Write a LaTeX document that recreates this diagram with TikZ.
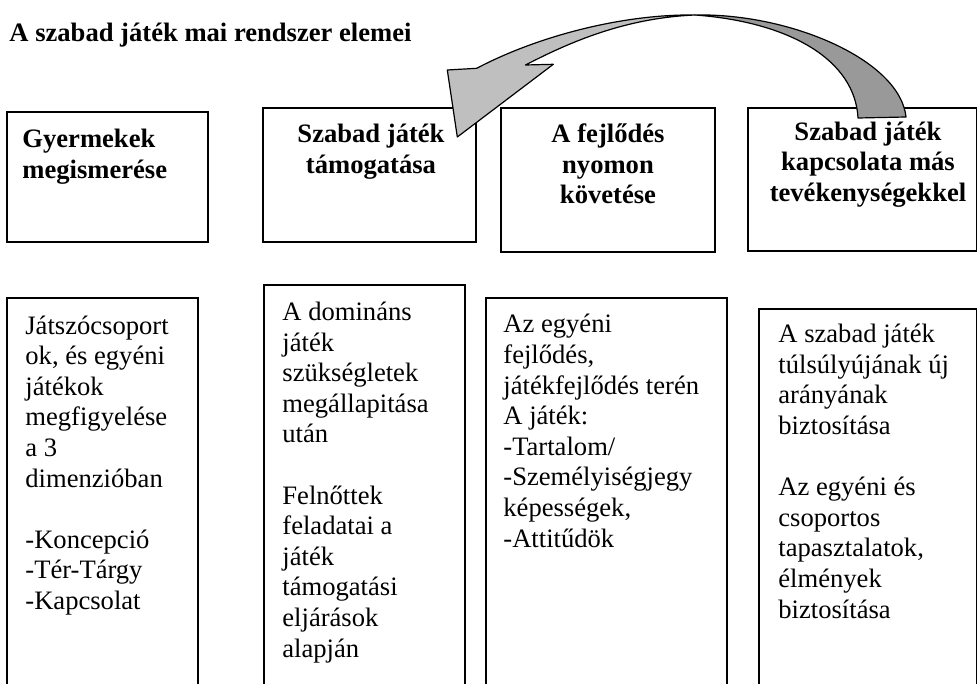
\documentclass[tikz,border=0pt]{standalone}
\usepackage{fontspec}
\setmainfont{Liberation Serif}
\usetikzlibrary{fit}
\begin{document}
\begin{tikzpicture}[x=0.5pt, y=-0.5pt,
    box/.style={draw, line width=0.9pt, inner sep=0pt},
    head/.style={font=\fontsize{13.3}{15.3}\selectfont\bfseries, inner sep=0pt, align=center, anchor=base},
    body/.style={font=\fontsize{13.3}{15.3}\selectfont, align=left, anchor=base west, inner sep=0pt},
    nyil/.style={draw, line width=0.6pt, line join=round}]
    \useasboundingbox (0,0) rectangle (978,684);
    \clip (0,0) rectangle (978,684);

    \node[font=\fontsize{13.3}{15.3}\selectfont\bfseries, inner sep=0pt, anchor=base west] (cim) at (9,42) {A szabad játék mai rendszer elemei};

    % felso dobozok
    \node[box, fit={(7,112) (208,242)}]   (megismeres) {};
    \node[box, fit={(263,108) (476,242)}] (tamogatas) {};
    \node[box, fit={(501,108) (715,252)}] (kovetes) {};
    \node[box, fit={(748,108) (976.5,251)}] (kapcsolat) {};

    % (a szoveg alapvonala = utolso sor)
    \node[head, align=left, anchor=base west] (megismeresT) at (22,178.5) {Gyermekek\\megismerése};
    \node[head] (tamogatasT) at (371,173.5) {Szabad játék\\támogatása};
    \node[head] (kovetesT) at (608,204) {A fejlődés\\nyomon\\követése};
    \node[head] (kapcsolatT) at (868,201.5) {Szabad játék\\kapcsolata más\\tevékenységekkel};

    % also dobozok
    \node[box, fit={(7,298) (198,700)}]     (megfigyeles) {};
    \node[box, fit={(264,285) (465,700)}]   (eljaras) {};
    \node[box, fit={(486,298) (727,700)}]   (fejlodes) {};
    \node[box, fit={(759,309) (976.5,700)}] (arany) {};

    \node[body] (megfigyelesT) at (25,609.5) {Játszócsoport\\ok, és egyéni\\játékok\\megfigyelése\\a 3\\dimenzióban\\[15.3pt]-Koncepció\\-Tér-Tárgy\\-Kapcsolat};
    \node[body] (eljarasT) at (282,657) {A domináns\\játék\\szükségletek\\megállapitása\\után\\[15.3pt]Felnőttek\\feladatai a\\játék\\támogatási\\eljárások\\alapján};
    \node[body] (fejlodesT) at (503,547) {Az egyéni\\fejlődés,\\játékfejlődés terén\\A játék:\\-Tartalom/\\-Személyiségjegy\\képességek,\\-Attitűdök};
    \node[body] (aranyT) at (778,618) {A szabad játék\\túlsúlyújának új\\arányának\\biztosítása\\[15.3pt]Az egyéni és\\csoportos\\tapasztalatok,\\élmények\\biztosítása};

    % ivelt nyil: hatso (sotet) resz es elso (vilagos) resz
    \coordinate (csavar) at (695,15);
    \path[nyil, fill=black!40] (csavar) .. controls (790,13) and (900,60) .. (906,117)
        -- (858,118) .. controls (855,60) and (790,22) .. (csavar) -- cycle;
    \path[nyil, fill=black!25] (csavar) .. controls (625,14) and (540,35) .. (476.7,68.3)
        -- (447.3,70) -- (457.3,137) -- (553.3,64.3) -- (525.5,65)
        .. controls (570,42) and (625,18) .. (csavar) -- cycle;
\end{tikzpicture}
\end{document}
